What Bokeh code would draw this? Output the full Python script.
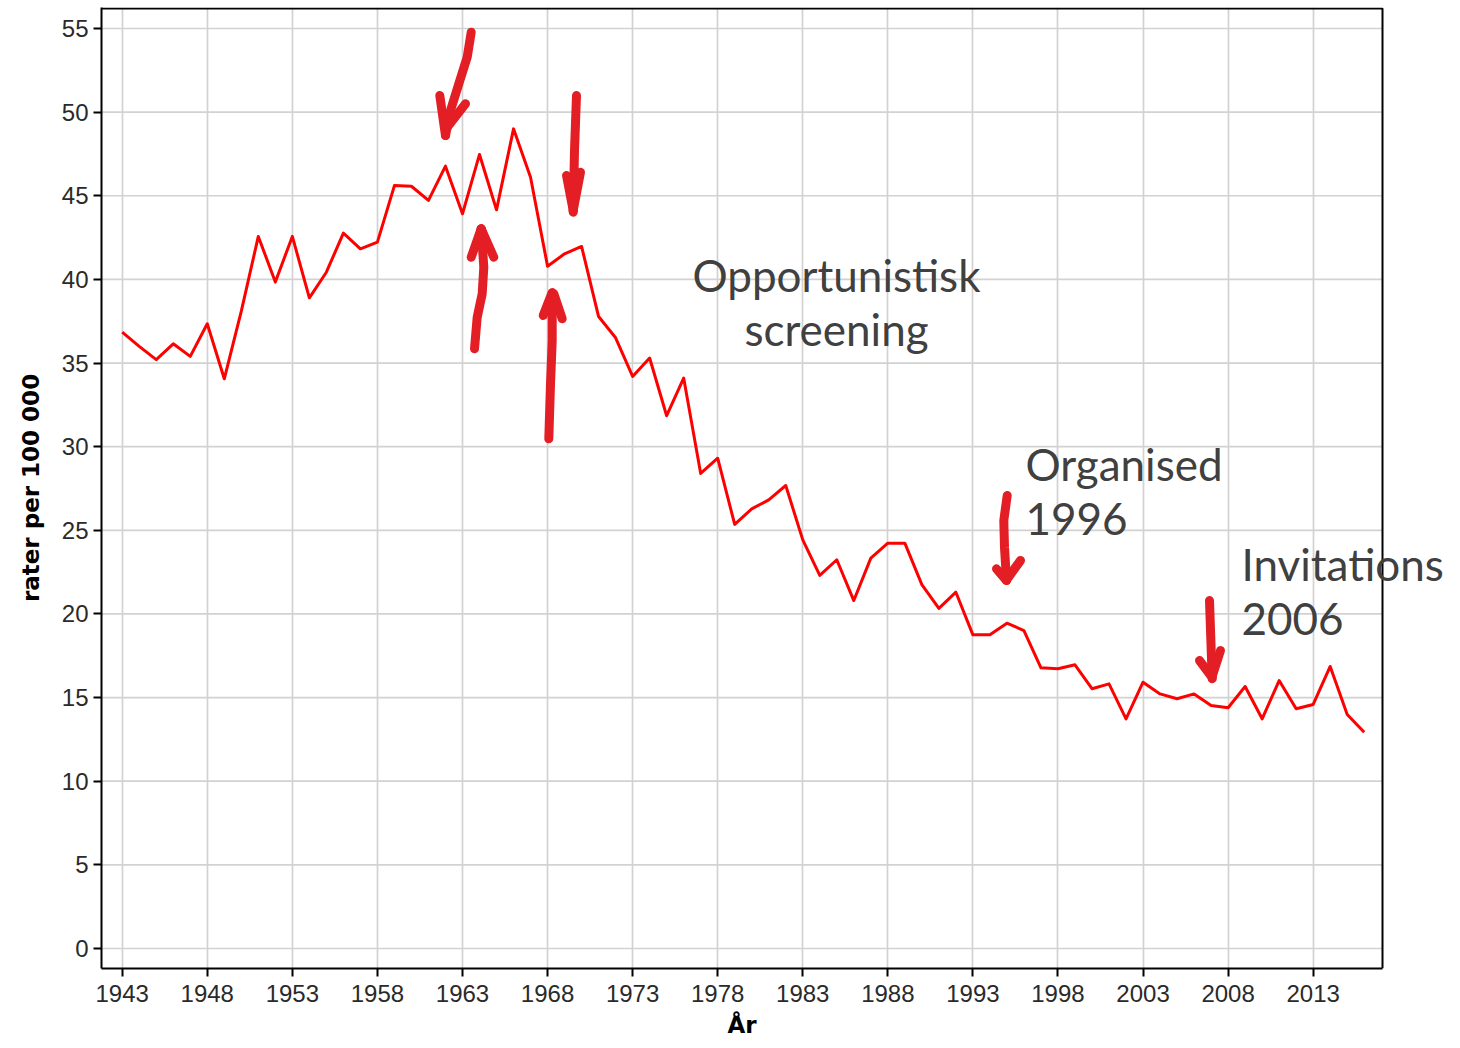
from bokeh.plotting import figure
from bokeh.models import FixedTicker, Range1d, Label, Title
from bokeh.embed import file_html
from bokeh.resources import INLINE

# ---- data ----
years = list(range(1943, 2017))
rates = [36.85, 36.0, 35.2, 36.15, 35.4, 37.35, 34.06, 38.1, 42.57, 39.84,
         42.57, 38.9, 40.43, 42.77, 41.83, 42.23, 45.61, 45.57, 44.72, 46.77,
         43.92, 47.47, 44.16, 49.0, 46.11, 40.79, 41.53, 41.97, 37.78, 36.51,
         34.2, 35.3, 31.85, 34.1, 28.4, 29.31, 25.35, 26.28, 26.82, 27.68,
         24.43, 22.3, 23.24, 20.8, 23.34, 24.23, 24.23, 21.75, 20.33, 21.3,
         18.75, 18.75, 19.45, 19.01, 16.78, 16.72, 16.96, 15.53, 15.82, 13.73,
         15.92, 15.22, 14.93, 15.22, 14.53, 14.39, 15.66, 13.73, 16.02, 14.33,
         14.59, 16.86, 13.99, 12.93]
x_ticks = [1943, 1948, 1953, 1958, 1963, 1968, 1973, 1978, 1983, 1988, 1993,
           1998, 2003, 2008, 2013]
y_ticks = [0, 5, 10, 15, 20, 25, 30, 35, 40, 45, 50, 55]
x_title = "År"
y_title = "rater per 100 000"
notes = ["Opportunistisk", "screening", "Organised", "1996", "Invitations", "2006"]

# ---- layout (canvas pixels) ----
W, H = 1458, 1048
BL, BT = 101, 7
FW, FH = 1354, 961           # frame extended right so the notes are not clipped
PX_PER_YEAR = 17.014
PX_PER_UNIT = 16.727
X0 = 1943 - (121.7 - BL) / PX_PER_YEAR
X1 = X0 + FW / PX_PER_YEAR
XR = X0 + (1382 - BL) / PX_PER_YEAR          # visible right border of the chart
Y1 = 55 + (28 - BT) / PX_PER_UNIT
Y0 = Y1 - FH / PX_PER_UNIT

p = figure(width=W, height=H, output_backend="svg", toolbar_location=None,
           x_range=Range1d(X0, X1), y_range=Range1d(Y0, Y1),
           min_border_left=BL, min_border_top=BT,
           min_border_right=W - BL - FW, min_border_bottom=H - BT - FH)
p.background_fill_color = "white"
p.border_fill_color = "white"
p.outline_line_color = None

p.xaxis.ticker = FixedTicker(ticks=x_ticks)
p.yaxis.ticker = FixedTicker(ticks=y_ticks)
p.xgrid.ticker = FixedTicker(ticks=x_ticks)
p.xgrid.grid_line_color = "#d2d2d2"
p.xgrid.grid_line_width = 1.7
p.ygrid.grid_line_color = None
p.xaxis.bounds = (X0, XR)

for ax in (p.xaxis, p.yaxis):
    ax.axis_line_color = "black"
    ax.axis_line_width = 2
    ax.major_tick_line_color = "black"
    ax.major_tick_line_width = 2
    ax.major_tick_out = 8
    ax.major_tick_in = 0
    ax.minor_tick_line_color = None
    ax.major_label_text_font = "Liberation Sans"
    ax.major_label_text_font_size = "24px"
    ax.major_label_text_color = "#2a2a2a"
p.xaxis.major_label_standoff = 8
p.yaxis.major_label_standoff = 5
p.yaxis.axis_label = y_title
p.yaxis.axis_label_text_font = "DejaVu Sans"
p.yaxis.axis_label_text_font_style = "bold"
p.yaxis.axis_label_text_font_size = "23px"
p.yaxis.axis_label_text_color = "black"
p.yaxis.axis_label_standoff = 15

# x-axis title, centred under the visible chart area (not the widened frame)
p.add_layout(Title(text=x_title, align="left", offset=626, standoff=10,
                   text_font="DejaVu Sans", text_font_style="bold",
                   text_font_size="23px", text_color="black"), "below")


def px_x(px):
    return X0 + (px - BL) / PX_PER_YEAR


def px_y(py):
    return Y1 - (py - BT) / PX_PER_UNIT


# horizontal grid lines, stopping at the chart's right border
p.segment(x0=X0, x1=XR, y0=y_ticks, y1=y_ticks, line_color="#d2d2d2", line_width=1.7)
# top and right border of the chart
YT = px_y(8)
p.line([X0, XR, XR], [YT, YT, Y0], line_color="black", line_width=2)

p.line(years, rates, line_color="#ff0000", line_width=3, line_join="round")

# ---- hand-drawn arrows (annotation strokes, reference pixel positions) ----
strokes = [
    [(470.7, 31.7), (466.7, 56.7), (458.3, 83.3), (450, 110), (445, 135)],
    [(439.3, 95), (445, 135)],
    [(465, 103.3), (446.7, 126.7)],
    [(474, 348.3), (476.7, 316.7), (481.7, 293.3), (483.3, 266.7), (480.7, 228.3)],
    [(470.7, 256.7), (480.7, 228.3)],
    [(493.3, 256.7), (480.7, 228.3)],
    [(576, 95), (574, 150), (572.7, 211.7)],
    [(566, 175), (572.7, 210)],
    [(580, 171.7), (572.7, 210)],
    [(548.3, 438.3), (550, 383.3), (551.7, 340), (551.7, 293.3)],
    [(542.7, 315), (551.7, 292)],
    [(561.7, 318.3), (553.3, 293.3)],
    [(1006.7, 495), (1003.3, 520), (1004, 546.7), (1006, 580)],
    [(996, 568.3), (1006, 580)],
    [(1020, 560), (1007, 578)],
    [(1209, 600), (1211.7, 678.3)],
    [(1199, 660), (1211.7, 677)],
    [(1220, 650), (1212, 675)],
]
p.multi_line([[px_x(a) for a, b in s] for s in strokes],
             [[px_y(b) for a, b in s] for s in strokes],
             line_color="#e31e24", line_width=9, line_cap="round", line_join="round")

# ---- text notes ----
note_pos = [(836, 274, "center"), (836, 328, "center"),
            (1025, 463, "left"), (1025, 518, "left"),
            (1241, 563, "left"), (1241, 618, "left")]
for txt, (nx, ny, al) in zip(notes, note_pos):
    p.add_layout(Label(x=px_x(nx), y=px_y(ny), text=txt, text_align=al,
                       text_baseline="alphabetic", text_font="Lato",
                       text_font_size="44px", text_color="#404040"))

open("out.html", "w").write(file_html(p, INLINE))
